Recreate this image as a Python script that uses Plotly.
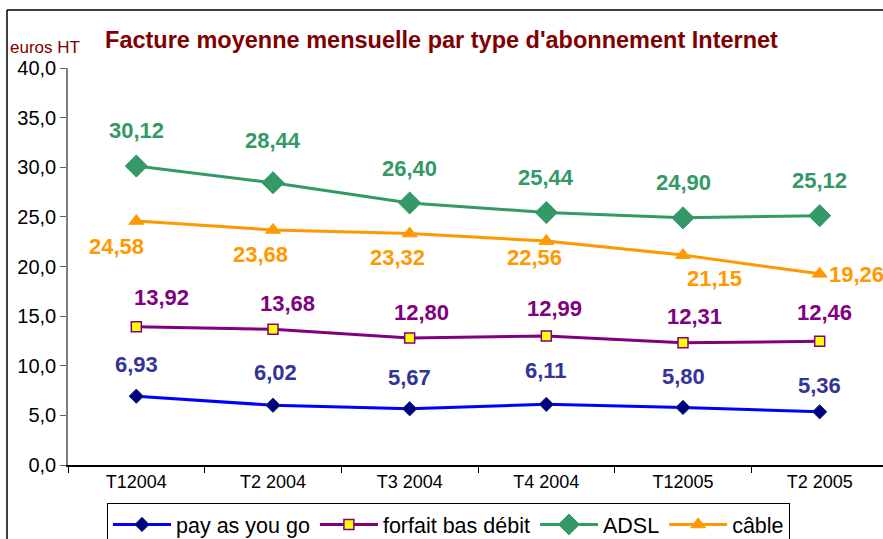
import plotly.graph_objects as go

categories = ["T12004", "T2 2004", "T3 2004", "T4 2004", "T12005", "T2 2005"]
pay_as_you_go = [6.93, 6.02, 5.67, 6.11, 5.80, 5.36]
forfait_bas_debit = [13.92, 13.68, 12.80, 12.99, 12.31, 12.46]
adsl = [30.12, 28.44, 26.40, 25.44, 24.90, 25.12]
cable = [24.58, 23.68, 23.32, 22.56, 21.15, 19.26]
y_ticks = [0, 5, 10, 15, 20, 25, 30, 35, 40]

W, H = 883, 539
L, R, T, B = 68, 0, 68, 74
pw, ph = W - L - R, H - T - B

series = [
    dict(name="pay as you go", y=pay_as_you_go, line="#0000FF",
         marker=dict(symbol="diamond", size=11, color="#000080", line=dict(color="#003366", width=1)),
         label="#333399",
         off=[(0, -32), (2, -33), (0, -31), (0, -34), (0, -31), (0, -26)], anchor=["center"] * 6),
    dict(name="forfait bas débit", y=forfait_bas_debit, line="#800080",
         marker=dict(symbol="square", size=10, color="#FFFF00", line=dict(color="#800080", width=1.5)),
         label="#800080",
         off=[(25, -29), (14, -26), (12, -25), (8, -28), (11, -26), (5, -29)], anchor=["center"] * 6),
    dict(name="ADSL", y=adsl, line="#339966",
         marker=dict(symbol="diamond", size=17, color="#339966", line=dict(color="#339966", width=1)),
         label="#339966",
         off=[(0, -36), (0, -42), (0, -34), (0, -35), (0, -35), (0, -35)], anchor=["center"] * 6),
    dict(name="câble", y=cable, line="#FF9900",
         marker=dict(symbol="triangle-up", size=13, color="#FF9900", line=dict(color="#FF9900", width=1)),
         label="#FF9900",
         off=[(-20, 25), (-13, 25), (-12, 24), (-12, 16), (31, 23), (7, 1)],
         anchor=["center", "center", "center", "center", "center", "left"]),
]

fig = go.Figure()
annotations = []
for s in series:
    fig.add_trace(go.Scatter(
        x=categories, y=s["y"], name=s["name"], mode="lines+markers",
        line=dict(color=s["line"], width=3), marker=s["marker"],
    ))
    for i, v in enumerate(s["y"]):
        dx, dy = s["off"][i]
        annotations.append(dict(
            x=categories[i], y=v, xref="x", yref="y",
            text=f"{v:.2f}".replace(".", ","), showarrow=False,
            xshift=dx, yshift=-dy, xanchor=s["anchor"][i], yanchor="middle",
            font=dict(family="Arial, Liberation Sans", size=22, color=s["label"], weight="bold"),
        ))

annotations.append(dict(
    text="euros HT", xref="paper", yref="paper", x=(8 - L) / pw, y=(H - B - 48) / ph,
    xanchor="left", yanchor="middle", showarrow=False,
    font=dict(family="Arial, Liberation Sans", size=17, color="#800000"),
))

fig.update_layout(
    width=W, height=H,
    margin=dict(l=L, r=R, t=T, b=B, pad=0, autoexpand=False),
    paper_bgcolor="white", plot_bgcolor="white",
    separators=", ",
    title=dict(text="<b>Facture moyenne mensuelle par type d'abonnement Internet</b>",
               xref="container", yref="container", x=0.5, xanchor="center", y=1 - 40 / H, yanchor="middle",
               font=dict(family="Arial, Liberation Sans", size=23.5, color="#800000")),
    xaxis=dict(type="category", range=[-0.5, -0.5 + pw / ((888 - 68) / 6)],
               showline=True, linecolor="black", linewidth=1.5, automargin=False,
               ticks="outside", tickson="boundaries", ticklen=6, tickcolor="black",
               showgrid=False, zeroline=False,
               tickfont=dict(family="Arial, Liberation Sans", size=18, color="black")),
    yaxis=dict(range=[0, 40], tickvals=y_ticks, tickformat=".1f", automargin=False,
               showline=True, linecolor="#808080", linewidth=1.5,
               ticks="outside", ticklen=6, tickcolor="#606060",
               showgrid=False, zeroline=False,
               tickfont=dict(family="Arial, Liberation Sans", size=20, color="black")),
    legend=dict(orientation="h", xref="container", yref="container",
                x=107 / W, y=1 - 503 / H,
                xanchor="left", yanchor="top",
                bordercolor="black", borderwidth=1, bgcolor="white",
                font=dict(family="Arial, Liberation Sans", size=21.5, color="black"),
                itemwidth=58, tracegroupgap=0),
    annotations=annotations,
    showlegend=True,
)

# outer chart frame (top and left edges visible)
fig.add_shape(type="line", xref="paper", yref="paper",
              x0=(7 - L) / pw, x1=(W + 10 - L) / pw, y0=(H - B - 10) / ph, y1=(H - B - 10) / ph,
              line=dict(color="black", width=1.5))
fig.add_shape(type="line", xref="paper", yref="paper",
              x0=(7 - L) / pw, x1=(7 - L) / pw, y0=(H - B - 10) / ph, y1=(H - B - H - 10) / ph,
              line=dict(color="black", width=1.5))

fig.write_html("out.html", config={"displayModeBar": False},
               post_script="document.body.style.margin='0';document.body.style.overflow='hidden';")
